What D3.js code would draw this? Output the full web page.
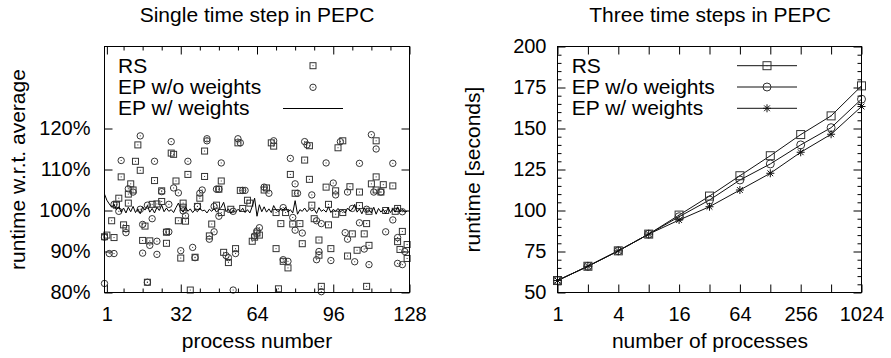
<!DOCTYPE html>
<html>
<head>
<meta charset="utf-8">
<script src="https://cdn.jsdelivr.net/npm/d3@7"></script>
<style>
  body { margin: 0; background: #fff; }
  svg text { font-family: "Liberation Sans", Arial, Helvetica, sans-serif; fill: #000; }
</style>
</head>
<body>
<svg id="chart" width="891" height="358"></svg>
<script>
// ---- left panel: single time step, runtime per process (% of average) ----
const rsPoints = [
  [0,93.6],[1,94.0],[3,97.5],[4,93.4],[5,101.3],[5,101.5],[6,103.0],[7,108.2],[8,96.5],[9,95.6],
  [10,101.8],[10,104.0],[11,106.5],[12,105.0],[13,112.0],[14,116.0],[15,109.8],[16,92.7],[17,96.2],[18,82.5],
  [19,92.6],[20,101.5],[21,107.3],[22,101.6],[24,102.2],[24,104.8],[26,92.0],[26,94.7],[28,114.0],[29,113.7],
  [30,107.2],[31,97.5],[32,88.4],[33,101.8],[33,100.8],[34,97.4],[35,108.8],[36,80.6],[38,88.6],[39,101.0],
  [40,103.0],[42,108.3],[42,114.5],[44,93.8],[45,96.7],[47,101.3],[48,105.2],[49,107.2],[49,99.5],[50,89.8],
  [52,87.3],[53,100.3],[55,90.7],[56,116.5],[57,104.9],[58,100.5],[60,102.5],[61,101.8],[62,92.5],[63,93.5],
  [64,94.5],[65,94.0],[67,105.0],[68,105.5],[70,116.5],[71,115.7],[72,90.7],[72,99.5],[73,80.9],[74,96.8],
  [75,87.6],[76,99.5],[77,86.0],[78,108.8],[79,96.7],[80,104.2],[82,96.8],[83,91.9],[84,112.3],[86,115.8],
  [86,107.6],[87,101.3],[88,98.0],[90,92.8],[90,89.1],[91,81.5],[93,105.7],[94,101.5],[94,96.5],[95,90.7],
  [97,104.8],[97,99.1],[98,115.3],[100,117.0],[100,99.5],[102,88.9],[103,105.8],[104,94.3],[106,90.3],[107,104.5],
  [107,101.2],[109,94.3],[110,96.8],[110,81.5],[111,91.5],[111,99.8],[112,106.5],[114,117.0],[114,108.2],[114,105.0],
  [116,104.5],[117,106.3],[118,100.0],[121,106.0],[122,99.8],[123,100.5],[123,92.4],[124,90.5],[125,94.9],[127,91.7],
  [127,88.3]
];
const epNoWeightPoints = [
  [0,82.2],[0,93.5],[2,89.5],[4,89.5],[4,101.5],[6,99.8],[7,112.2],[9,94.6],[10,105.3],[12,104.5],
  [15,118.2],[15,100.3],[16,96.6],[16,89.6],[18,101.3],[18,82.5],[19,91.5],[20,98.0],[21,112.0],[22,92.5],
  [22,89.3],[24,104.6],[26,94.8],[27,94.8],[27,101.5],[28,116.8],[29,105.5],[31,104.3],[32,90.2],[33,99.9],
  [34,98.7],[35,112.0],[37,91.0],[38,88.5],[39,101.0],[40,104.2],[41,105.0],[43,117.5],[43,117.0],[44,93.0],
  [46,101.0],[46,94.8],[47,105.2],[48,105.2],[48,98.6],[49,111.6],[51,89.0],[52,88.5],[54,99.8],[54,80.6],
  [55,89.5],[56,117.5],[57,116.5],[58,104.9],[59,104.9],[63,93.8],[64,95.0],[65,95.8],[67,105.7],[69,104.2],
  [71,117.0],[75,100.7],[75,88.0],[77,87.6],[78,112.7],[79,98.3],[80,106.5],[80,95.2],[81,104.2],[83,94.5],
  [84,116.8],[85,116.0],[87,103.8],[89,97.5],[89,88.0],[90,90.0],[91,96.8],[91,80.2],[93,111.6],[95,87.8],
  [96,106.7],[97,103.8],[99,116.8],[101,94.6],[102,104.5],[102,93.0],[104,100.5],[105,87.5],[107,111.5],[107,97.0],
  [109,90.6],[110,100.3],[111,86.8],[112,118.5],[113,104.5],[114,115.0],[116,104.5],[118,94.8],[121,111.5],[121,97.7],
  [123,93.4],[123,87.1],[125,99.7],[125,86.8],[126,90.0]
];
// EP w/ weights, one value per process (index = process position on axis)
const epWeightLine = [
  104.0,102.5,101.6,100.8,101.5,100.2,100.9,99.6,100.6,99.4,
  100.8,99.7,101.0,99.5,100.4,99.2,100.9,100.1,101.2,99.6,
  100.5,99.4,100.8,100.0,101.3,99.7,100.6,99.8,100.2,99.5,
  100.7,101.8,100.3,99.6,100.9,99.8,100.4,99.5,100.2,99.7,
  100.6,99.9,100.1,99.4,100.3,99.8,100.5,99.6,100.2,100.8,
  102.0,99.7,100.4,99.3,100.1,99.6,100.3,99.8,100.5,99.5,
  100.2,99.4,101.0,103.0,98.6,101.4,99.7,100.9,99.6,100.4,
  99.5,101.2,100.1,99.7,100.5,100.1,100.8,99.6,100.2,99.4,
  102.4,99.1,100.2,99.8,100.6,99.7,100.4,99.9,100.3,99.3,
  100.7,99.8,100.2,99.6,100.9,99.5,100.3,99.8,100.5,99.7,
  100.1,99.4,100.6,99.9,100.3,101.5,99.6,100.4,99.2,100.6,
  99.7,100.2,99.4,100.8,99.1,100.5,99.6,100.3,99.2,100.7,
  99.5,100.4,99.6,100.9,99.7,100.3,99.6,99.8
];
const leftXTicks = [1, 32, 64, 96, 128];
const leftYTicks = [80, 90, 100, 110, 120];

// ---- right panel: three time steps, runtime vs number of processes ----
const procCounts = [1, 2, 4, 8, 16, 32, 64, 128, 256, 512, 1024];
const rsRuntime = [57.3, 66.0, 75.4, 85.6, 97.2, 108.8, 121.2, 133.4, 146.3, 157.7, 176.0];
const epNoWeightRuntime = [57.3, 66.0, 75.4, 85.6, 96.2, 106.4, 118.6, 128.4, 140.0, 150.5, 167.9];
const epWeightRuntime = [57.3, 66.0, 75.4, 85.6, 94.2, 102.3, 112.5, 122.7, 135.5, 146.5, 163.4];
const rightXLabels = [1, 4, 16, 64, 256, 1024];
const rightYTicks = [50, 75, 100, 125, 150, 175, 200];

const seriesNames = ["RS", "EP w/o weights", "EP w/ weights"];

const svg = d3.select("#chart");
const FONT = '"Liberation Sans", Arial, Helvetica, sans-serif';
const markColor = "#333";

// gnuplot-style inward ticks on all four sides
function addAxis(g, axis, tx, ty, size, labelled) {
  const a = g.append("g")
    .attr("transform", `translate(${tx},${ty})`)
    .call(axis.tickSize(-size))
    .attr("font-family", FONT)
    .attr("font-size", 20);
  a.select(".domain").remove();
  if (!labelled) a.selectAll("text").remove();
  return a;
}

function square(g, x, y, s) {
  g.append("rect").attr("x", x - s / 2).attr("y", y - s / 2)
    .attr("width", s).attr("height", s)
    .attr("fill", "none").attr("stroke", markColor);
  g.append("rect").attr("x", x - 0.5).attr("y", y - 0.5).attr("width", 1).attr("height", 1).attr("fill", markColor);
}
function circle(g, x, y, r, dot) {
  g.append("circle").attr("cx", x).attr("cy", y).attr("r", r)
    .attr("fill", "none").attr("stroke", markColor);
  if (dot) g.append("rect").attr("x", x - 0.5).attr("y", y - 0.5).attr("width", 1).attr("height", 1).attr("fill", markColor);
}
function star(g, x, y, s) {
  const h = s / 2, d = s * 0.36;
  g.append("path")
    .attr("d", `M${x - h},${y}H${x + h}M${x},${y - h}V${y + h}M${x - d},${y - d}L${x + d},${y + d}M${x - d},${y + d}L${x + d},${y - d}`)
    .attr("stroke", "#111").attr("fill", "none");
}

// ================= left panel =================
{
  const x = d3.scaleLinear().domain([0, 128]).range([104.5, 409.5]);
  const y = d3.scaleLinear().domain([80, 140]).range([292.5, 46.5]);
  const g = svg.append("g");
  const minorX = d3.range(8, 128, 8).filter(v => !leftXTicks.includes(v));

  addAxis(g, d3.axisBottom(x).tickValues(leftXTicks).tickFormat(d3.format("d")).tickPadding(14), 0, 292.5, 8, true);
  addAxis(g, d3.axisBottom(x).tickValues(minorX).tickFormat(""), 0, 292.5, 4, false);
  addAxis(g, d3.axisTop(x).tickValues(leftXTicks), 0, 46.5, 8, false);
  addAxis(g, d3.axisTop(x).tickValues(minorX), 0, 46.5, 4, false);
  addAxis(g, d3.axisLeft(y).tickValues(leftYTicks).tickFormat(d => d + "%").tickPadding(14), 104.5, 0, 8, true);
  addAxis(g, d3.axisRight(y).tickValues(leftYTicks), 409.5, 0, 8, false);

  const pts = g.append("g");
  rsPoints.forEach(([px, v]) => square(pts, x(px), y(v), 6));
  epNoWeightPoints.forEach(([px, v]) => circle(pts, x(px), y(v), 3.2, true));

  g.append("path")
    .datum(epWeightLine)
    .attr("fill", "none").attr("stroke", "#000").attr("stroke-width", 1)
    .attr("d", d3.line().x((d, i) => x(i)).y(d => y(d)));

  g.append("rect").attr("x", 104.5).attr("y", 46.5).attr("width", 305).attr("height", 246)
    .attr("fill", "none").attr("stroke", "#000");

  // legend
  const leg = g.append("g").attr("font-size", 21);
  seriesNames.forEach((n, i) => leg.append("text").attr("x", 118).attr("y", 72.7 + i * 21.3).text(n));
  square(leg, 313, 65.7, 6);
  circle(leg, 313, 87.3, 3.2, true);
  leg.append("line").attr("x1", 283).attr("x2", 343).attr("y1", 108.5).attr("y2", 108.5).attr("stroke", "#000");

  g.append("text").attr("x", 257).attr("y", 21.7).attr("text-anchor", "middle").attr("font-size", 21)
    .text("Single time step in PEPC");
  g.append("text").attr("x", 257).attr("y", 348).attr("text-anchor", "middle").attr("font-size", 21)
    .text("process number");
  g.append("text").attr("transform", "translate(25,169.5) rotate(-90)").attr("text-anchor", "middle").attr("font-size", 21)
    .text("runtime w.r.t. average");
}

// ================= right panel =================
{
  const x = d3.scaleLog().base(2).domain([1, 1024]).range([557.5, 861.5]);
  const y = d3.scaleLinear().domain([50, 200]).range([292.5, 46.5]);
  const g = svg.append("g");
  const minorY = d3.range(55, 200, 5).filter(v => !rightYTicks.includes(v));
  const fmtX = d => rightXLabels.includes(d) ? String(d) : "";

  addAxis(g, d3.axisBottom(x).tickValues(procCounts).tickFormat(fmtX).tickPadding(14), 0, 292.5, 8, true);
  addAxis(g, d3.axisTop(x).tickValues(procCounts), 0, 46.5, 8, false);
  addAxis(g, d3.axisLeft(y).tickValues(rightYTicks).tickFormat(d3.format("d")).tickPadding(11), 557.5, 0, 8, true);
  addAxis(g, d3.axisLeft(y).tickValues(minorY).tickFormat(""), 557.5, 0, 4, false);
  addAxis(g, d3.axisRight(y).tickValues(rightYTicks), 861.5, 0, 8, false);
  addAxis(g, d3.axisRight(y).tickValues(minorY), 861.5, 0, 4, false);

  const line = d3.line().x((d, i) => x(procCounts[i])).y(d => y(d));
  [rsRuntime, epNoWeightRuntime, epWeightRuntime].forEach(s => {
    g.append("path").datum(s).attr("fill", "none").attr("stroke", "#111").attr("d", line);
  });
  const m = g.append("g");
  rsRuntime.forEach((v, i) => square(m, x(procCounts[i]), y(v), 8));
  epNoWeightRuntime.forEach((v, i) => circle(m, x(procCounts[i]), y(v), 4, false));
  epWeightRuntime.forEach((v, i) => star(m, x(procCounts[i]), y(v), 8));

  g.append("rect").attr("x", 557.5).attr("y", 46.5).attr("width", 304).attr("height", 246)
    .attr("fill", "none").attr("stroke", "#000");

  const leg = g.append("g").attr("font-size", 21);
  seriesNames.forEach((n, i) => {
    const ly = 65.7 + i * 21.3;
    leg.append("text").attr("x", 571.7).attr("y", 72.7 + i * 21.3).text(n);
    leg.append("line").attr("x1", 737).attr("x2", 797).attr("y1", ly).attr("y2", ly).attr("stroke", "#111");
  });
  square(leg, 767, 65.7, 8);
  circle(leg, 767, 87, 4, false);
  star(leg, 767, 108.3, 8);

  g.append("text").attr("x", 710).attr("y", 21.7).attr("text-anchor", "middle").attr("font-size", 21)
    .text("Three time steps in PEPC");
  g.append("text").attr("x", 710).attr("y", 348).attr("text-anchor", "middle").attr("font-size", 21)
    .text("number of processes");
  g.append("text").attr("transform", "translate(480,169.5) rotate(-90)").attr("text-anchor", "middle").attr("font-size", 21)
    .text("runtime [seconds]");
}
</script>
</body>
</html>
